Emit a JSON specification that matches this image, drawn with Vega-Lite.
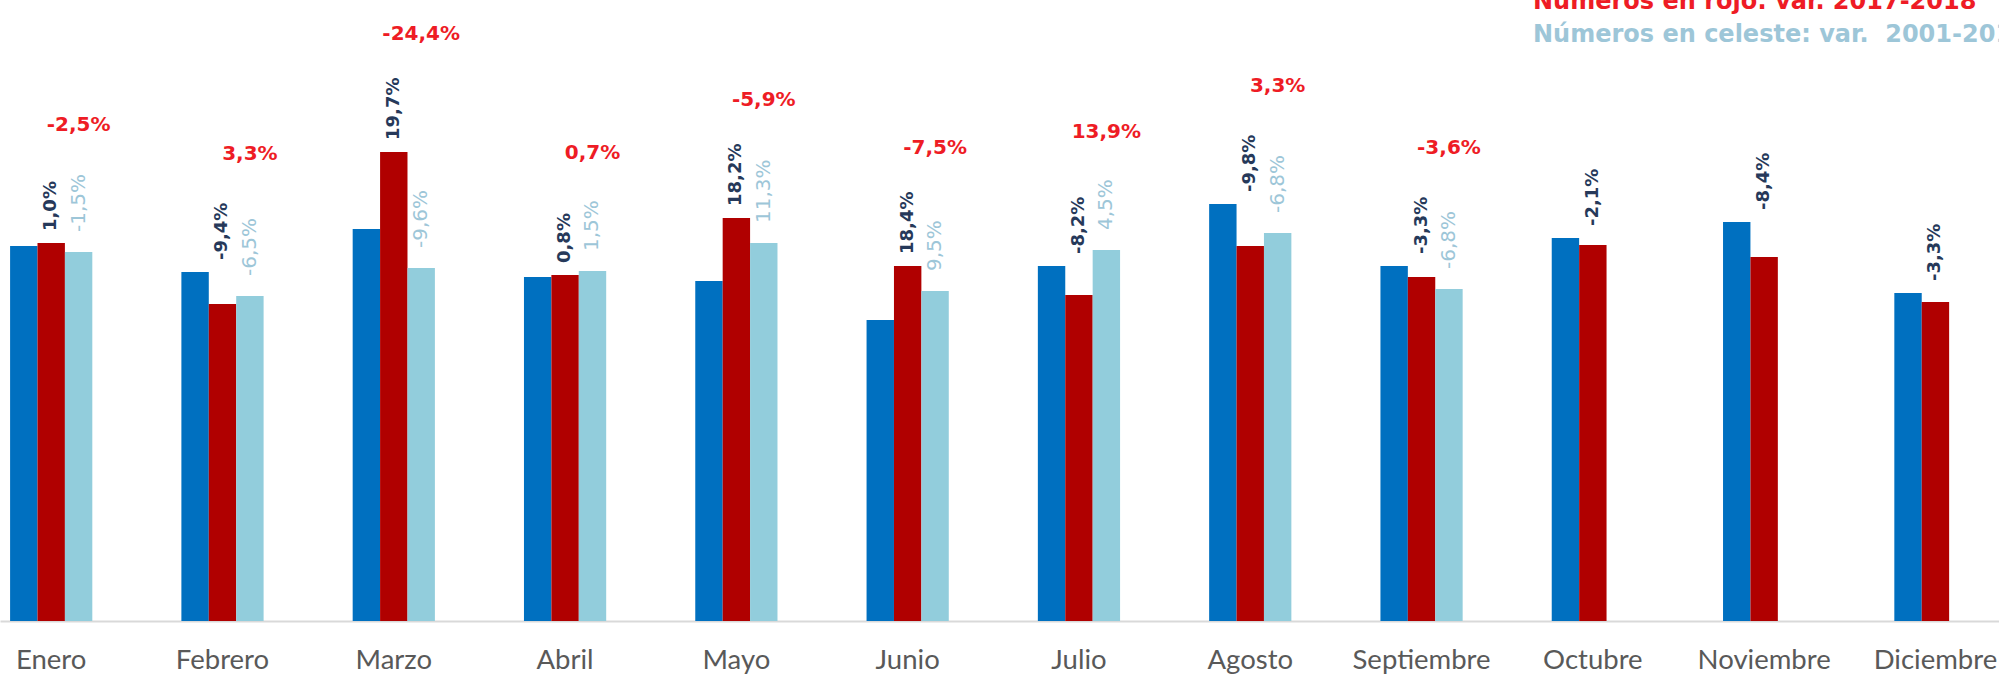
{
  "$schema": "https://vega.github.io/schema/vega-lite/v6.json",
  "width": 1999,
  "height": 571,
  "autosize": {"type": "none"},
  "padding": {"top": 50, "left": 0, "right": 0, "bottom": 54},
  "background": "#ffffff",
  "title": {
    "text": "Números en rojo: var. 2017-2018",
    "subtitle": "Números en celeste: var. \u00a02001-2018",
    "anchor": "start",
    "frame": "group",
    "dx": 1533,
    "offset": -23,
    "font": "DejaVu Sans",
    "fontSize": 24,
    "fontWeight": "bold",
    "color": "#EE1C25",
    "subtitleFont": "DejaVu Sans",
    "subtitleFontSize": 24,
    "subtitleFontWeight": "bold",
    "subtitleColor": "#9DC6D8",
    "subtitlePadding": 9
  },
  "config": {"view": {"stroke": null}},
  "data": {
    "values": [
      {"mes": "Enero", "s1": 375, "s2": 378, "s3": 369, "lblAzul": "1,0%", "lblRojo": "-2,5%", "lblCeleste": "-1,5%"},
      {"mes": "Febrero", "s1": 349, "s2": 317, "s3": 325, "lblAzul": "-9,4%", "lblRojo": "3,3%", "lblCeleste": "-6,5%"},
      {"mes": "Marzo", "s1": 392, "s2": 469, "s3": 353, "lblAzul": "19,7%", "lblRojo": "-24,4%", "lblCeleste": "-9,6%"},
      {"mes": "Abril", "s1": 344, "s2": 346, "s3": 350, "lblAzul": "0,8%", "lblRojo": "0,7%", "lblCeleste": "1,5%"},
      {"mes": "Mayo", "s1": 340, "s2": 403, "s3": 378, "lblAzul": "18,2%", "lblRojo": "-5,9%", "lblCeleste": "11,3%"},
      {"mes": "Junio", "s1": 301, "s2": 355, "s3": 330, "lblAzul": "18,4%", "lblRojo": "-7,5%", "lblCeleste": "9,5%"},
      {"mes": "Julio", "s1": 355, "s2": 326, "s3": 371, "lblAzul": "-8,2%", "lblRojo": "13,9%", "lblCeleste": "4,5%"},
      {"mes": "Agosto", "s1": 417, "s2": 375, "s3": 388, "lblAzul": "-9,8%", "lblRojo": "3,3%", "lblCeleste": "-6,8%"},
      {"mes": "Septiembre", "s1": 355, "s2": 344, "s3": 332, "lblAzul": "-3,3%", "lblRojo": "-3,6%", "lblCeleste": "-6,8%"},
      {"mes": "Octubre", "s1": 383, "s2": 376, "s3": null, "lblAzul": "-2,1%", "lblRojo": null, "lblCeleste": null},
      {"mes": "Noviembre", "s1": 399, "s2": 364, "s3": null, "lblAzul": "-8,4%", "lblRojo": null, "lblCeleste": null},
      {"mes": "Diciembre", "s1": 328, "s2": 319, "s3": null, "lblAzul": "-3,3%", "lblRojo": null, "lblCeleste": null}
    ]
  },
  "encoding": {
    "x": {
      "field": "mes",
      "type": "nominal",
      "sort": ["Enero", "Febrero", "Marzo", "Abril", "Mayo", "Junio", "Julio", "Agosto", "Septiembre", "Octubre", "Noviembre", "Diciembre"],
      "scale": {"paddingInner": 0.52, "paddingOuter": 0.095, "align": 0.31},
      "axis": {
        "title": null,
        "labelAngle": 0,
        "ticks": false,
        "domainColor": "#D9D9D9",
        "domainWidth": 2,
        "labelFont": "Lato",
        "labelFontSize": 27.5,
        "labelColor": "#595959",
        "labelPadding": 25
      }
    },
    "xOffset": {"field": "serie", "type": "nominal", "sort": ["s1", "s2", "s3"], "scale": {"paddingInner": 0, "paddingOuter": 0}}
  },
  "layer": [
    {
      "transform": [{"fold": ["s1", "s2", "s3"], "as": ["serie", "valor"]}],
      "mark": {"type": "bar"},
      "encoding": {
        "y": {"field": "valor", "type": "quantitative", "scale": {"domain": [0, 571], "nice": false}, "axis": null},
        "color": {"field": "serie", "type": "nominal", "scale": {"domain": ["s1", "s2", "s3"], "range": ["#0070C0", "#B00000", "#92CDDC"]}, "legend": null}
      }
    },
    {
      "transform": [
        {"fold": ["s1", "s2"], "as": ["serie", "valor"]},
        {"joinaggregate": [{"op": "max", "field": "valor", "as": "tope"}], "groupby": ["mes"]},
        {"filter": {"field": "serie", "equal": "s2"}}
      ],
      "mark": {"type": "text", "angle": 270, "align": "left", "baseline": "middle", "dx": 12, "font": "DejaVu Sans", "fontSize": 18, "fontWeight": "bold", "color": "#26395A"},
      "encoding": {
        "y": {"field": "tope", "type": "quantitative"},
        "text": {"field": "lblAzul"}
      }
    },
    {
      "transform": [
        {"fold": ["s3"], "as": ["serie", "valor"]},
        {"filter": "datum.lblCeleste != null"}
      ],
      "mark": {"type": "text", "angle": 270, "align": "left", "baseline": "middle", "dx": 20, "font": "DejaVu Sans", "fontSize": 20, "fontWeight": "normal", "color": "#9DC6D8"},
      "encoding": {
        "y": {"field": "valor", "type": "quantitative"},
        "text": {"field": "lblCeleste"}
      }
    },
    {
      "transform": [
        {"fold": ["s1", "s2", "s3"], "as": ["serie", "valor"]},
        {"joinaggregate": [{"op": "max", "field": "valor", "as": "tope"}], "groupby": ["mes"]},
        {"filter": {"field": "serie", "equal": "s3"}},
        {"filter": "datum.lblRojo != null"}
      ],
      "mark": {"type": "text", "align": "center", "baseline": "middle", "dy": -118, "font": "DejaVu Sans", "fontSize": 20, "fontWeight": "bold", "color": "#EE1C25"},
      "encoding": {
        "y": {"field": "tope", "type": "quantitative"},
        "text": {"field": "lblRojo"}
      }
    }
  ]
}
